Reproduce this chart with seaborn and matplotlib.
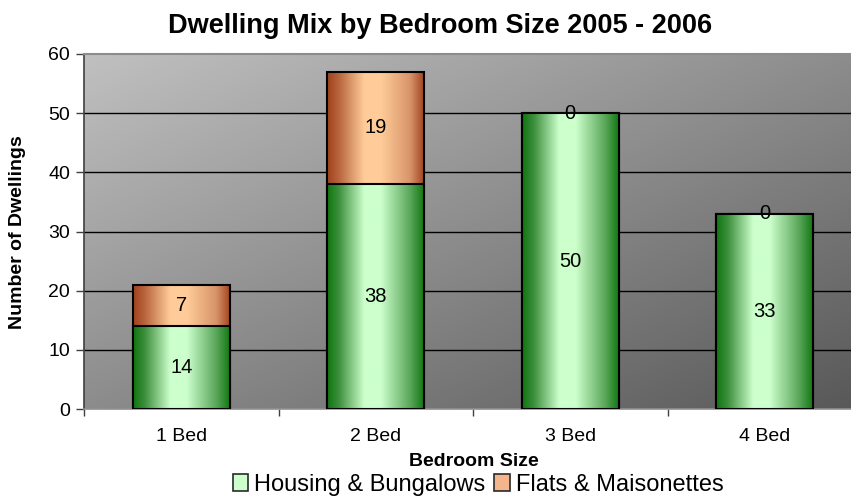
import numpy as np
import pandas as pd
import matplotlib
matplotlib.use("Agg")
import matplotlib.pyplot as plt
from matplotlib.colors import LinearSegmentedColormap
from matplotlib.patches import Patch
import seaborn as sns

categories = ["1 Bed", "2 Bed", "3 Bed", "4 Bed"]
housing = [14, 38, 50, 33]
flats = [7, 19, 0, 0]
series_names = ["Housing & Bungalows", "Flats & Maisonettes"]

sns.set_theme(style="white")
plt.rcParams["font.family"] = ["Liberation Sans", "DejaVu Sans"]
plt.rcParams["text.color"] = "black"
plt.rcParams["xtick.labelcolor"] = "black"
plt.rcParams["ytick.labelcolor"] = "black"

fig = plt.figure(figsize=(8.51, 5.0), dpi=100)
W, H = 851, 500
left, right, top, bottom = 84, 862, 54, 409
ax = fig.add_axes([left / W, 1 - bottom / H, (right - left) / W, (bottom - top) / H])

totals = [h + f for h, f in zip(housing, flats)]
df = pd.DataFrame({"cat": categories, "housing": housing, "total": totals})

sns.barplot(data=df, x="cat", y="total", ax=ax, width=0.5, color="#ffcc99",
            edgecolor="black", linewidth=1.5, zorder=3)
sns.barplot(data=df, x="cat", y="housing", ax=ax, width=0.5, color="#ccffcc",
            edgecolor="black", linewidth=1.5, zorder=4)

ax.set_xlim(-0.5, 3.5)
ax.set_ylim(0, 60)

# diagonal gray gradient for the plot area (light top-left, dark bottom-right)
yy, xx = np.mgrid[0:1:200j, 0:1:200j]
bg = 0.5 * xx + 0.5 * yy
bg_cmap = LinearSegmentedColormap.from_list("bg", ["#c0c0c0", "#585858"])
ax.imshow(bg, cmap=bg_cmap, extent=(-0.5, 3.5, 0, 60), origin="upper",
          aspect="auto", zorder=0, interpolation="bilinear")

green_cmap = LinearSegmentedColormap.from_list(
    "g", [(0, "#0e760e"), (0.12, "#3d8f3d"), (0.38, "#ccffcc"),
          (0.55, "#ccffcc"), (0.85, "#5aa65a"), (1, "#0e760e")])
orange_cmap = LinearSegmentedColormap.from_list(
    "o", [(0, "#a0401c"), (0.12, "#b8653e"), (0.38, "#ffcc99"),
          (0.55, "#ffcc99"), (0.85, "#d8946a"), (1, "#a0401c")])

grad = np.linspace(0, 1, 256).reshape(1, -1)
patches = list(ax.patches)
n = len(categories)
for i, p in enumerate(patches):
    cmap = orange_cmap if i < n else green_cmap
    x0, y0 = p.get_x(), p.get_y()
    w, h = p.get_width(), p.get_height()
    if h <= 0:
        continue
    ax.imshow(grad, cmap=cmap, extent=(x0, x0 + w, y0, y0 + h),
              aspect="auto", zorder=p.get_zorder() - 0.5,
              interpolation="bilinear")
    p.set_facecolor("none")
ax.set_xlim(-0.5, 3.5)
ax.set_ylim(0, 60)

# value labels
for i in range(n):
    ax.text(i, housing[i] / 2, str(housing[i]), ha="center", va="center",
            fontsize=14.5, color="black", zorder=6)
    ax.text(i, housing[i] + flats[i] / 2, str(flats[i]), ha="center",
            va="center", fontsize=14.5, color="black", zorder=6)

# grid and axes
ax.set_yticks(range(0, 61, 10))
for v in range(10, 60, 10):
    ax.axhline(v, color="black", linewidth=1.0, zorder=1)
ax.set_xticks(np.arange(-0.5, 3.6, 1.0), minor=False)
ax.set_xticklabels([])
ax.set_xticks(range(n), minor=True)
ax.set_xticklabels(categories, minor=True)
ax.tick_params(axis="x", which="major", length=5, width=1, color="#404040",
               direction="out", bottom=True)
ax.tick_params(axis="x", which="minor", length=0, pad=14, labelsize=14,
               labelcolor="black")
ax.tick_params(axis="y", length=6, width=1, color="#404040", direction="out",
               left=True, labelsize=14, pad=4, labelcolor="black")
ax.spines["left"].set_color("#404040")
ax.spines["left"].set_linewidth(1.2)
ax.spines["bottom"].set_color("#909090")
ax.spines["bottom"].set_linewidth(1.2)
ax.spines["top"].set_color("#8c8c8c")
ax.spines["top"].set_linewidth(1.5)
ax.spines["right"].set_visible(False)
ax.set_xlabel("")
ax.set_ylabel("")

fig.text(440 / W, 1 - 26 / H, "Dwelling Mix by Bedroom Size 2005 - 2006",
         ha="center", va="center", fontsize=19.5, fontweight="bold",
         color="black")
fig.text(18 / W, 1 - 232 / H, "Number of Dwellings", rotation=90,
         ha="center", va="center", fontsize=14, fontweight="bold",
         color="black")
fig.text(474 / W, 1 - 462 / H, "Bedroom Size", ha="center", va="center",
         fontsize=14, fontweight="bold", color="black")

handles = [Patch(facecolor="#ccffcc", edgecolor="#2a2a2a", linewidth=1.2),
           Patch(facecolor="#f4b48c", edgecolor="#2a2a2a", linewidth=1.2)]
leg = fig.legend(handles, series_names, loc="center",
                 bbox_to_anchor=(478 / W, 1 - 485 / H),
                 ncol=2, frameon=False, fontsize=17, handlelength=0.65,
                 handleheight=0.75, handletextpad=0.25, columnspacing=0.4,
                 borderpad=0, labelcolor="black")

fig.savefig("out.png", dpi=100)
